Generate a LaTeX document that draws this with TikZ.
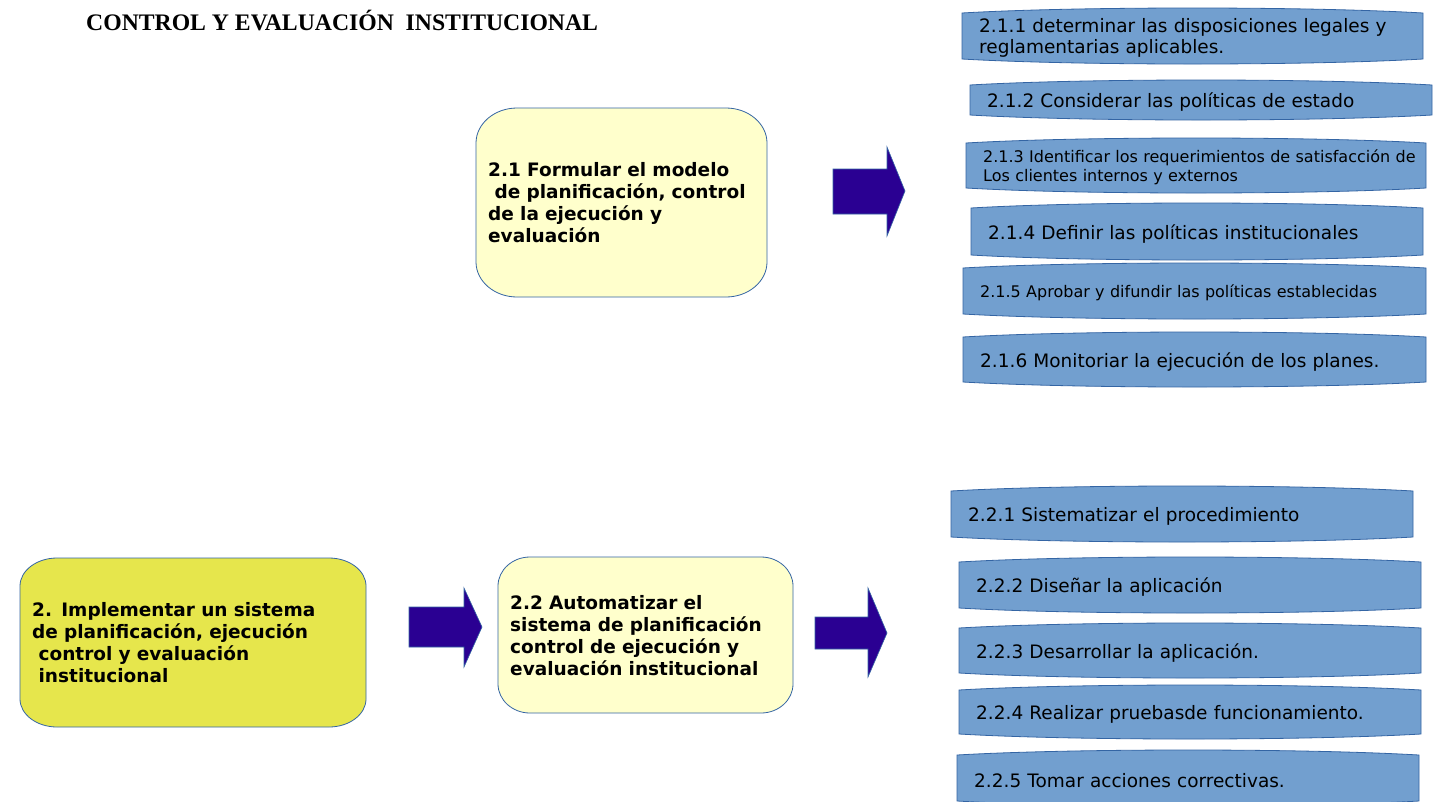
\documentclass[tikz,border=0pt]{standalone}
\usepackage{fontspec}
\setmainfont{DejaVu Sans}
\newfontfamily\titlefont{Liberation Serif}
\definecolor{boxblue}{HTML}{729FCF}
\definecolor{edgeblue}{HTML}{3465A4}
\definecolor{paleyellow}{HTML}{FFFFCC}
\definecolor{strongyellow}{HTML}{E6E64C}
\definecolor{arrowblue}{RGB}{42,0,146}
\tikzset{
  bluefill/.style={fill=boxblue, draw=edgeblue, line width=0.8pt},
  palefill/.style={fill=paleyellow, draw=edgeblue, line width=0.8pt},
  strongfill/.style={fill=strongyellow, draw=edgeblue, line width=0.8pt},
  arrowfill/.style={fill=arrowblue, draw=edgeblue, line width=0.6pt},
  tasktext/.style={anchor=north west, inner sep=0pt, align=left, text=black},
  bigtext/.style={font=\fontsize{18.5}{21}\selectfont},
  smalltext/.style={font=\fontsize{16}{19}\selectfont},
}
% #1 name, #2 x1, #3 y1, #4 x2, #5 y2, #6 text style, #7 text
\newcommand\bluetask[7]{%
  \pgfmathsetmacro\bh{#5-#3}%
  \pgfmathsetmacro\tw{#4-#2-19}%
  \pgfmathsetmacro\ca{#2+0.25*(#4-#2)}%
  \pgfmathsetmacro\cb{#4-0.25*(#4-#2)}%
  \path[bluefill] (#2,#3+5) .. controls (\ca,#3-1.67) and (\cb,#3-1.67) .. (#4,#3+5)
     -- (#4,#5-5) .. controls (\cb,#5+1.67) and (\ca,#5+1.67) .. (#2,#5-5) -- cycle;
  \node[tasktext, #6, minimum height=\bh pt, text width=\tw pt] (#1) at (#2+17,#3+2) {#7};
}
% #1 name, #2 x1, #3 y1, #4 x2, #5 y2, #6 rx, #7 ry, #8 fill style, #9 text
\newcommand\yellowtask[9]{%
  \pgfmathsetmacro\bh{#5-#3}%
  \pgfmathsetmacro\tw{#4-#2-14}%
  \path[#8] (#2+#6,#3) -- (#4-#6,#3)
     .. controls (#4-0.45*#6,#3) and (#4,#3+0.45*#7) .. (#4,#3+#7)
     -- (#4,#5-#7)
     .. controls (#4,#5-0.45*#7) and (#4-0.45*#6,#5) .. (#4-#6,#5)
     -- (#2+#6,#5)
     .. controls (#2+0.45*#6,#5) and (#2,#5-0.45*#7) .. (#2,#5-#7)
     -- (#2,#3+#7)
     .. controls (#2,#3+0.45*#7) and (#2+0.45*#6,#3) .. (#2+#6,#3) -- cycle;
  \node[tasktext, font=\bfseries\fontsize{18.5}{22}\selectfont, minimum height=\bh pt, text width=\tw pt] (#1) at (#2+12,#3) {#9};
}
\newcommand\leadsp{\hspace*{0.348em}}
\begin{document}
\begin{tikzpicture}[x=1pt,y=-1pt]
\clip (0,0) rectangle (1434,801);
\fill[white] (0,0) rectangle (1434,801);

\node[anchor=base west, inner sep=0pt, font=\titlefont\bfseries\fontsize{23.7}{28}\selectfont] (title) at (86,30) {CONTROL Y EVALUACIÓN\ \ INSTITUCIONAL};

% upper group
\yellowtask{t21}{476}{108}{767}{297}{41}{35}{palefill}{2.1 Formular el modelo\\\leadsp de planificación, control\\de la ejecución y\\evaluación}

\bluetask{t211}{962}{8}{1423}{64}{bigtext}{2.1.1 determinar las disposiciones legales y\\reglamentarias aplicables.}
\bluetask{t212}{970}{80}{1432}{120}{bigtext}{2.1.2 Considerar las políticas de estado}
\bluetask{t213}{966}{138}{1426}{193}{smalltext}{2.1.3 Identificar los requerimientos de satisfacción de\\Los clientes internos y externos}
\bluetask{t214}{971}{203}{1423}{260}{bigtext}{2.1.4 Definir las políticas institucionales}
\bluetask{t215}{963}{263}{1426}{319}{smalltext}{2.1.5 Aprobar y difundir las políticas establecidas}
\bluetask{t216}{963}{332}{1426}{387}{bigtext}{2.1.6 Monitoriar la ejecución de los planes.}

\path[arrowfill] (833,169) -- (887,169) -- (887,147) -- (905,191) -- (887,236) -- (887,214) -- (833,214) -- cycle;

% lower group
\yellowtask{t2}{20}{558}{366}{727}{37}{28}{strongfill}{2. Implementar un sistema\\de planificación, ejecución\\\leadsp control y evaluación\\\leadsp institucional}
\yellowtask{t22}{498}{557}{793}{713}{32}{29}{palefill}{2.2 Automatizar el\\sistema de planificación\\control de ejecución y\\evaluación institucional}

\path[arrowfill] (409,607) -- (464,607) -- (464,588) -- (482,627) -- (464,667) -- (464,647) -- (409,647) -- cycle;
\path[arrowfill] (815,617) -- (868,617) -- (868,588) -- (887,633) -- (868,677) -- (868,649) -- (815,649) -- cycle;

\bluetask{t221}{951}{486}{1413}{542}{bigtext}{2.2.1 Sistematizar el procedimiento}
\bluetask{t222}{959}{557}{1421}{613}{bigtext}{2.2.2 Diseñar la aplicación}
\bluetask{t223}{959}{623}{1421}{678}{bigtext}{2.2.3 Desarrollar la aplicación.}
\bluetask{t224}{959}{685}{1421}{739}{bigtext}{2.2.4 Realizar pruebasde funcionamiento.}
\bluetask{t225}{957}{750}{1419}{806}{bigtext}{2.2.5 Tomar acciones correctivas.}
\end{tikzpicture}
\end{document}
